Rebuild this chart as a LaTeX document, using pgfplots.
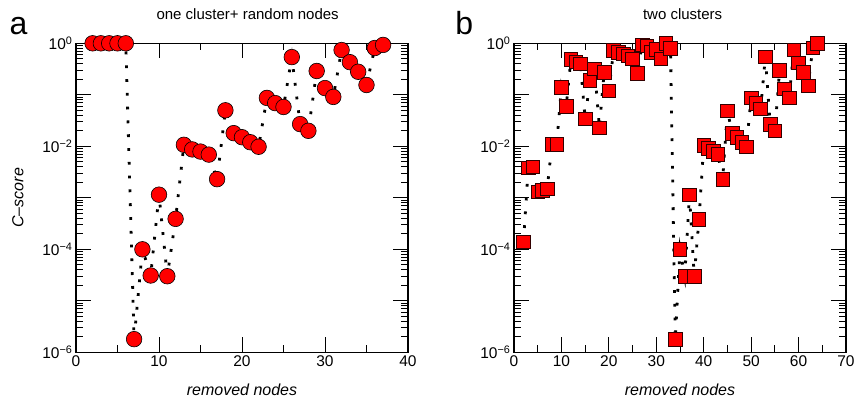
\documentclass[border=0pt]{standalone}
\usepackage{fontspec}
\setmainfont{Liberation Sans}
\usepackage{pgfplots}
\pgfplotsset{compat=1.18}
\usepackage{pgfplotstable}

% panel a: one cluster + random nodes
\pgfplotstableread{
x y
2 1
3 1
4 1
5 1
6 1
7 1.8e-6
8 1.0e-4
9 3.1e-5
10 1.15e-3
11 3.0e-5
12 3.9e-4
13 1.07e-2
14 8.7e-3
15 7.9e-3
16 6.9e-3
17 2.3e-3
18 5.0e-2
19 1.8e-2
20 1.5e-2
21 1.2e-2
22 9.8e-3
23 8.7e-2
24 6.9e-2
25 5.8e-2
26 0.54
27 2.7e-2
28 2.0e-2
29 0.29
30 0.135
31 0.091
32 0.74
33 0.43
34 0.28
35 0.155
36 0.81
37 0.93
}\dataA

% panel b: two clusters
\pgfplotstableread{
x y
2 1.4e-4
3 3.8e-3
4 4.0e-3
5 1.3e-3
6 1.4e-3
7 1.5e-3
8 1.1e-2
9 1.1e-2
10 0.14
11 0.059
12 0.49
13 0.44
14 0.40
15 0.034
16 0.19
17 0.32
18 0.023
19 0.27
20 0.12
21 0.72
22 0.67
23 0.62
24 0.57
25 0.50
26 0.26
27 0.93
28 0.89
29 0.66
30 0.76
31 0.50
32 1.0
33 0.80
34 1.8e-6
35 1.0e-4
36 3.0e-5
37 1.15e-3
38 3.0e-5
39 3.8e-4
40 1.03e-2
41 9.1e-3
42 7.9e-3
43 6.9e-3
44 2.3e-3
45 4.9e-2
46 1.8e-2
47 1.5e-2
48 1.2e-2
49 9.8e-3
50 8.8e-2
51 6.8e-2
52 5.3e-2
53 0.55
54 2.7e-2
55 2.0e-2
56 0.30
57 0.13
58 0.088
59 0.74
60 0.42
61 0.27
62 0.15
63 0.82
64 1.0
}\dataB

\begin{document}
\begin{tikzpicture}
\useasboundingbox (-76pt,-48.7pt) rectangle (779pt,352.3pt);

\begin{axis}[
  scale only axis,
  width=332pt, height=309pt,
  ymode=log,
  ymin=1e-6, ymax=1,
  ytick={1e-6,1e-5,1e-4,1e-3,1e-2,1e-1,1},
  yticklabels={10\textsuperscript{−6},,10\textsuperscript{−4},,10\textsuperscript{−2},,10\textsuperscript{0}},
  xmin=0, xmax=40, xtick={0,10,20,30,40},
  minor x tick num=1,
  tick align=inside,
  major tick length=15pt,
  minor tick length=7pt,
  tick style={line width=0.9pt, black},
  axis line style={line width=1.4pt},
  ticklabel style={font=\fontsize{15.5}{15.5}\selectfont},
  /pgf/number format/assume math mode=true,
  xlabel={removed nodes},
  xlabel style={font=\fontsize{16}{16}\selectfont\itshape, at={(axis description cs:0.5,-0.122)}, anchor=center},
  ylabel={C–score},
  ylabel style={font=\fontsize{16}{16}\selectfont\itshape, at={(axis description cs:-0.175,0.5)}, anchor=center},
  title={one cluster+ random nodes},
  title style={font=\fontsize{15}{15}\selectfont, at={(axis description cs:0.517,1.058)}, anchor=base},
  clip=false,
]
\addplot[black, line width=2.8pt, dash pattern=on 2.8pt off 11pt, forget plot] table[x=x, y=y] {\dataA};
\addplot[only marks, mark=*, mark size=7.8pt,
  mark options={fill=red, draw=black, line width=0.6pt}] table[x=x, y=y] {\dataA};
\node[font=\fontsize{32}{32}\selectfont, anchor=base] at (axis description cs:-0.173,1.027) {a};
\end{axis}

\begin{axis}[
  xshift=438pt,
  scale only axis,
  width=332pt, height=309pt,
  ymode=log,
  ymin=1e-6, ymax=1,
  ytick={1e-6,1e-5,1e-4,1e-3,1e-2,1e-1,1},
  yticklabels={10\textsuperscript{−6},,10\textsuperscript{−4},,10\textsuperscript{−2},,10\textsuperscript{0}},
  xmin=0, xmax=70, xtick={0,10,20,30,40,50,60,70},
  minor x tick num=1,
  tick align=inside,
  major tick length=15pt,
  minor tick length=7pt,
  tick style={line width=0.9pt, black},
  axis line style={line width=1.4pt},
  ticklabel style={font=\fontsize{15.5}{15.5}\selectfont},
  /pgf/number format/assume math mode=true,
  xlabel={removed nodes},
  xlabel style={font=\fontsize{16}{16}\selectfont\itshape, at={(axis description cs:0.5,-0.122)}, anchor=center},
  title={two clusters},
  title style={font=\fontsize{15}{15}\selectfont, at={(axis description cs:0.508,1.058)}, anchor=base},
  clip=false,
]
\addplot[black, line width=2.8pt, dash pattern=on 2.8pt off 11pt, forget plot] table[x=x, y=y] {\dataB};
\addplot[only marks, mark=square*, mark size=6.8pt,
  mark options={fill=red, draw=black!80!red, line width=0.7pt}] table[x=x, y=y] {\dataB};
\node[font=\fontsize{32}{32}\selectfont, anchor=base] at (axis description cs:-0.150,1.027) {b};
\end{axis}
\end{tikzpicture}
\end{document}
